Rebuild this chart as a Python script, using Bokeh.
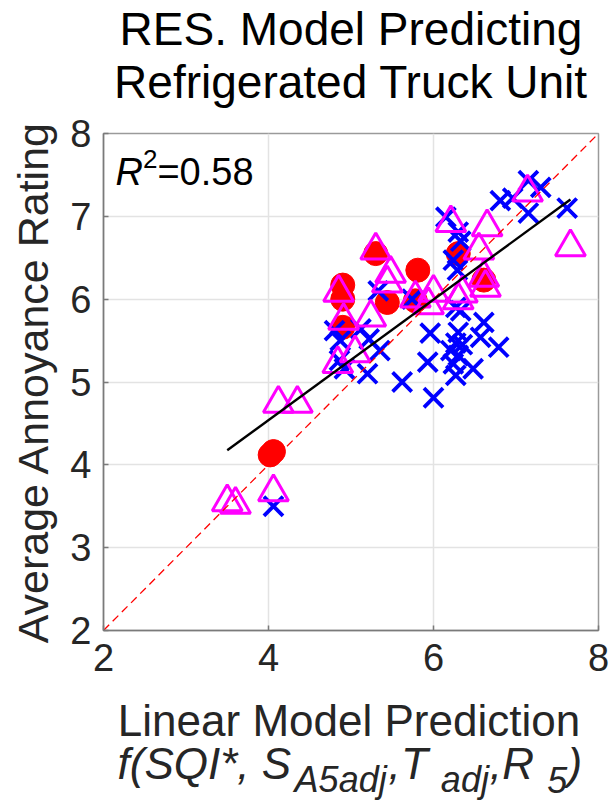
from bokeh.plotting import figure
from bokeh.models import Label, FixedTicker, Range1d
from bokeh.layouts import column
from bokeh.core.properties import value
from bokeh.embed import file_html
from bokeh.resources import INLINE

# --- data -----------------------------------------------------------------
# blue crosses
cross_x = [4.06, 4.80, 4.87, 4.86, 4.92, 5.12, 5.22, 5.35, 5.20, 5.33, 5.74,
           5.62, 6.00, 5.93, 5.96, 6.21, 6.24, 6.27, 6.27, 6.30, 6.30, 6.35,
           6.33, 6.48, 6.57, 6.61, 6.79, 6.27, 6.29, 6.24, 6.33, 6.30, 6.15,
           6.81, 6.96, 7.15, 7.30, 7.15, 7.62]
cross_y = [3.50, 5.62, 5.50, 5.26, 5.16, 5.64, 5.52, 5.38, 5.10, 6.10, 6.00,
           5.00, 4.81, 5.24, 5.59, 5.38, 5.22, 5.08, 5.47, 5.32, 5.60, 5.45,
           5.86, 5.16, 5.54, 5.72, 5.42, 5.90, 6.35, 6.47, 6.70, 6.81, 6.99,
           7.19, 7.22, 7.43, 7.35, 7.04, 7.10]

# red filled circles
circle_x = [4.02, 4.06, 4.90, 4.90, 4.90, 5.30, 5.44, 5.78, 5.81, 6.30, 6.61]
circle_y = [4.12, 4.16, 6.17, 6.00, 5.66, 6.55, 5.96, 5.98, 6.35, 6.55, 6.23]

# magenta open triangles
tri_x = [3.50, 3.60, 4.06, 4.12, 4.35, 4.85, 4.91, 4.84, 5.05, 5.24, 5.30,
         5.44, 5.48, 5.78, 5.94, 6.00, 6.35, 6.63, 6.30, 6.21, 6.65, 7.14,
         7.66, 6.55, 6.61]
tri_y = [3.55, 3.52, 3.67, 4.74, 4.74, 6.08, 5.74, 5.22, 5.35, 5.78, 6.59,
         6.19, 6.31, 6.01, 5.93, 6.08, 6.07, 6.14, 5.99, 6.92, 6.87, 7.29,
         6.63, 6.59, 6.26]

# least-squares fit reported for the model (R^2 = 0.58)
fit_slope = 0.728
fit_intercept = 1.627
r_squared = "0.58"

x_ticks = [2, 4, 6, 8]
y_ticks = [2, 3, 4, 5, 6, 7, 8]

title_lines = ["RES. Model Predicting", "Refrigerated Truck Unit"]
x_title = "Linear Model Prediction"
y_title = "Average Annoyance Rating"
# model formula: (text, is_subscript)
formula = [("f(SQI*, S", False), ("A5adj", True), (",", False), (" T", False),
           ("adj", True), (",", False), (" R", False), ("5", True), (")", False)]

# --- layout ---------------------------------------------------------------
FONT = "Liberation Sans"
W = 612
TOP_H, MAIN_H, BOT_H = 110, 580, 110
LEFT, RIGHT = 103, 14
FRAME_TOP, FRAME_BOTTOM = 23, 60    # borders inside the main figure
X0, X1 = x_ticks[0], x_ticks[-1]
MID = 0.35  # distance from baseline to text middle, as a fraction of size


def text_figure(h):
    # strip of text sharing the horizontal frame of the scatter plot
    f = figure(width=W, height=h, output_backend="svg", toolbar_location=None,
               title=None, x_range=Range1d(X0, X1), y_range=Range1d(0, h),
               x_axis_type=None, y_axis_type=None,
               min_border_left=LEFT, min_border_right=RIGHT,
               min_border_top=0, min_border_bottom=0)
    f.outline_line_color = None
    f.background_fill_color = "white"
    f.border_fill_color = "white"
    return f


def mid_y(strip_h, baseline_from_top, size):
    # strip coordinate (y up) of a text's middle for a given baseline
    return strip_h - baseline_from_top + MID * size


# title block, centred over the axes
TITLE_SZ = 46
top = text_figure(TOP_H)
top.text(x=[(X0 + X1) / 2] * 2,
         y=[mid_y(TOP_H, 45, TITLE_SZ), mid_y(TOP_H, 98, TITLE_SZ)],
         text=title_lines, text_font=value(FONT),
         text_font_size=f"{TITLE_SZ}px", text_color="black",
         text_align="center", text_baseline="middle")

# main scatter
p = figure(width=W, height=MAIN_H, output_backend="svg", toolbar_location=None,
           title=None, x_range=Range1d(X0, X1), y_range=Range1d(2, 8),
           min_border_left=LEFT, min_border_right=RIGHT,
           min_border_top=FRAME_TOP, min_border_bottom=FRAME_BOTTOM)
p.background_fill_color = "white"
p.border_fill_color = "white"
p.outline_line_color = "#9a9a9a"
p.outline_line_width = 1.5

for ax, ticks in ((p.xaxis, x_ticks), (p.yaxis, y_ticks)):
    ax.ticker = FixedTicker(ticks=ticks)
    ax.axis_line_color = "#7a7a7a"
    ax.axis_line_width = 1.5
    ax.major_tick_line_color = "#7a7a7a"
    ax.major_tick_line_width = 1.5
    ax.major_tick_in = 5
    ax.major_tick_out = 0
    ax.minor_tick_line_color = None
    ax.major_label_text_font = FONT
    ax.major_label_text_font_size = "38px"
    ax.major_label_text_color = "#262626"
p.xaxis.major_label_standoff = 13
p.yaxis.major_label_standoff = 12
p.yaxis.axis_label = y_title
p.yaxis.axis_label_text_font = FONT
p.yaxis.axis_label_text_font_style = "normal"
p.yaxis.axis_label_text_color = "#262626"
p.yaxis.axis_label_text_font_size = "43px"
p.yaxis.axis_label_standoff = 10

for g, ticks in ((p.xgrid, x_ticks), (p.ygrid, y_ticks)):
    g.ticker = FixedTicker(ticks=ticks)
    g.grid_line_color = "#e3e3e3"
    g.grid_line_width = 1.5

p.scatter(circle_x, circle_y, marker="circle", size=24,
          fill_color="#ff0000", line_color="#ff0000")
p.scatter(cross_x, cross_y, marker="x", size=27,
          line_color="#0000ff", line_width=3.8)
p.scatter(tri_x, tri_y, marker="triangle", size=30,
          fill_color=None, line_color="#ff00ff", line_width=3)

# 1:1 reference line
p.line([X0, X1], [y_ticks[0], y_ticks[-1]],
       line_color="#ff0000", line_width=1.3, line_dash="8 5")

# regression line across the range of predictions
all_x = cross_x + circle_x + tri_x
fx = [min(all_x), max(all_x)]
fy = [fit_slope * v + fit_intercept for v in fx]
p.line(fx, fy, line_color="black", line_width=2.4)

# R^2 annotation in the upper-left corner (baseline 52 px below the frame top)
R_SIZE, SUP_SIZE = 38, 26
R_BASE = -52
p.add_layout(Label(x=X0, y=8, x_offset=12, y_offset=R_BASE + MID * R_SIZE,
                   text="R", text_font=FONT, text_font_size=f"{R_SIZE}px",
                   text_font_style="italic", text_baseline="middle",
                   text_color="black"))
p.add_layout(Label(x=X0, y=8, x_offset=12 + 0.722 * R_SIZE,
                   y_offset=R_BASE + 17 + MID * SUP_SIZE,
                   text="2", text_font=FONT, text_font_size=f"{SUP_SIZE}px",
                   text_baseline="middle", text_color="black"))
p.add_layout(Label(x=X0, y=8, x_offset=12 + 0.722 * R_SIZE + 0.556 * SUP_SIZE,
                   y_offset=R_BASE + MID * R_SIZE, text="=" + r_squared,
                   text_font=FONT, text_font_size=f"{R_SIZE}px",
                   text_baseline="middle", text_color="black"))

# x-axis title: plain first line, then the model formula with subscripts
bot = text_figure(BOT_H)
XT_SZ = 44
bot.text(x=[(X0 + X1) / 2], y=[mid_y(BOT_H, 45, XT_SZ)], text=[x_title],
         x_offset=-2, text_font=value(FONT), text_font_size=f"{XT_SZ}px",
         text_color="#262626", text_align="center", text_baseline="middle")

ADV = {"f": .278, "(": .333, "S": .667, "Q": .778, "I": .278, "*": .389,
       ",": .278, " ": .278, "A": .667, "5": .556, "a": .556, "d": .556,
       "j": .222, "T": .611, "R": .722, ")": .333}
MAIN_SZ, SUB_SZ = 44, 36
offs, ys, txt, sizes = [], [], [], []
pos = 117 - LEFT
for piece, is_sub in formula:
    sz = SUB_SZ if is_sub else MAIN_SZ
    offs.append(pos)
    ys.append(mid_y(BOT_H, 102 if is_sub else 88, sz))
    txt.append(piece)
    sizes.append(f"{sz}px")
    pos += sum(ADV[c] for c in piece) * sz * 1.02
bot.text(x=[X0] * len(txt), y=ys, text=txt, x_offset=offs,
         text_font=value(FONT), text_font_size=sizes,
         text_font_style="italic", text_color="#262626",
         text_align="left", text_baseline="middle")

layout = column(top, p, bot, spacing=0)
open("out.html", "w").write(file_html(layout, INLINE))
